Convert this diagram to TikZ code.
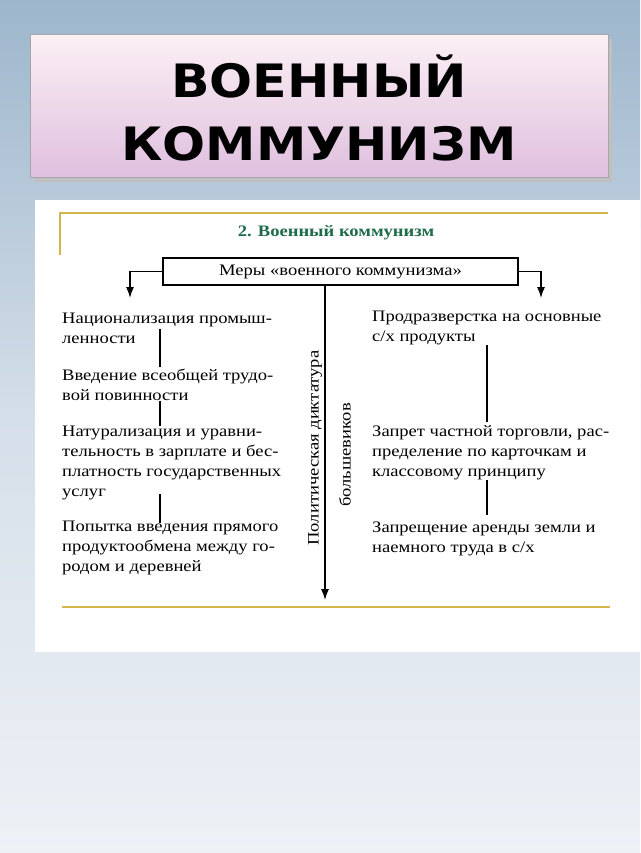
\documentclass[tikz,border=0pt]{standalone}
\usepackage{fontspec}
\setmainfont{Liberation Serif}[FakeStretch=1.16]
\newfontfamily\titlefont{DejaVu Sans}[FakeStretch=1.1]
\usetikzlibrary{positioning, arrows.meta}
\definecolor{gold}{HTML}{D2B64C}
\definecolor{headgreen}{HTML}{1E6B4A}
\definecolor{bgtop}{HTML}{9DB6CC}
\definecolor{bgbottom}{HTML}{EEF1F6}
\tikzset{
    itemtext/.style={anchor=north west, inner sep=0pt, align=left, font=\fontsize{16}{20}\selectfont},
    goldline/.style={draw=gold, line width=1.4pt},
    link/.style={line width=1.3pt},
}
\begin{document}
\begin{tikzpicture}[x=1pt, y=-1pt, >={Latex[length=11pt, width=8pt]}]
%Background
\shade[top color=bgtop, bottom color=bgbottom, middle color=bgbottom!70!bgtop] (0,0) rectangle (640,853);
\useasboundingbox (0,0) rectangle (640,853);
\fill[black!25] (34,39) rectangle (612,182);
\shade[top color=purple!6!white, bottom color=violet!25!white, draw=gray!70, line width=1pt] (30,35) rectangle (608,178);
\node[font=\titlefont\bfseries\fontsize{46}{63}\selectfont, align=center] (title) at (319,108) {ВОЕННЫЙ\\КОММУНИЗМ};
\fill[white] (35,200) rectangle (640,652);

%Frame
\draw[goldline] (60,255) -- (60,213) -- (608,213);
\draw[goldline] (62,607) -- (610,607);
\node[font=\bfseries\fontsize{16}{19}\selectfont, text=headgreen] (heading) at (336,233) {2. Военный коммунизм};

%Nodes
\node[draw, line width=1.3pt, minimum width=355pt, minimum height=27pt, font=\fontsize{16}{19}\selectfont] (measures) at (340.5,271.5) {Меры «военного коммунизма»};
\coordinate (leftdrop) at (130,298);
\coordinate (rightdrop) at (541,298);
\coordinate (axisend) at (325,600);
\node[itemtext] (left1) at (62,313) {Национализация промыш-\\ленности};
\node[itemtext] (left2) at (62,369) {Введение всеобщей трудо-\\вой повинности};
\node[itemtext] (left3) at (62,426) {Натурализация и уравни-\\тельность в зарплате и бес-\\платность государственных\\услуг};
\node[itemtext] (left4) at (62,521) {Попытка введения прямого\\продуктообмена между го-\\родом и деревней};
\node[itemtext] (right1) at (372,311) {Продразверстка на основные\\с/х продукты};
\node[itemtext] (right2) at (372,425) {Запрет частной торговли, рас-\\пределение по карточкам и\\классовому принципу};
\node[itemtext] (right3) at (372,522) {Запрещение аренды земли и\\наемного труда в с/х};
\node[rotate=90, font=\fontsize{16}{19}\selectfont] (dictatorship) at (315,448) {Политическая диктатура};
\node[rotate=90, font=\fontsize{16}{19}\selectfont] (bolsheviks) at (345,455) {большевиков};

%Lines
\draw[link, ->] (measures.west) -| (leftdrop);
\draw[link, ->] (measures.east) -| (rightdrop);
\draw[link, ->] (measures.south -| axisend) -- (axisend);
\draw[link] ([xshift=98pt, yshift=15pt]left1.south west) -- ([xshift=98pt, yshift=2pt]left2.north west);
\draw[link] ([xshift=98pt, yshift=0pt]left2.south west) -- ([xshift=98pt, yshift=0pt]left3.north west);
\draw[link] ([xshift=98pt, yshift=6pt]left3.south west) -- ([xshift=98pt, yshift=-2pt]left4.north west);
\draw[link] ([xshift=115pt, yshift=0pt]right1.south west) -- ([xshift=115pt, yshift=3pt]right2.north west);
\draw[link] ([xshift=115pt, yshift=0pt]right2.south west) -- ([xshift=115pt, yshift=7pt]right3.north west);
\end{tikzpicture}
\end{document}
